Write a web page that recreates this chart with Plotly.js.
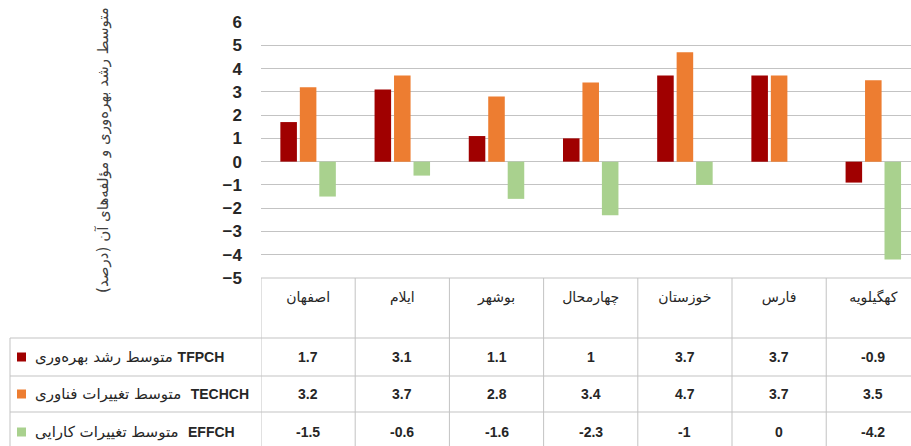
<!DOCTYPE html>
<html>
<head>
<meta charset="utf-8">
<script src="https://cdn.plot.ly/plotly-3.0.1.min.js"></script>
<style>
html,body{margin:0;padding:0;background:#fff;overflow:hidden;}
#chart{width:911px;height:446px;}
</style>
</head>
<body>
<div id="chart"></div>
<script>
// ---- data ----
const categories = ['اصفهان', 'ایلام', 'بوشهر', 'چهارمحال', 'خوزستان', 'فارس', 'کهگیلویه'];
const tfpch  = [1.7, 3.1, 1.1, 1, 3.7, 3.7, -0.9];
const techch = [3.2, 3.7, 2.8, 3.4, 4.7, 3.7, 3.5];
const effch  = [-1.5, -0.6, -1.6, -2.3, -1, 0, -4.2];
const seriesCodes  = ['TFPCH', 'TECHCH', 'EFFCH'];
const seriesLabels = ['متوسط رشد بهره‌وری', 'متوسط تغییرات فناوری', 'متوسط تغییرات کارایی'];
const yTickVals = [-5, -4, -3, -2, -1, 0, 1, 2, 3, 4, 5, 6];
const yTitle = 'متوسط رشد بهره‌وری و مؤلفه‌های آن (درصد)';

// ---- styling / geometry ----
const colors = ['#A00000', '#ED7D31', '#A9D18E'];
const seriesValues = [tfpch, techch, effch];
const W = 911, H = 446;
const L = 261, T = 22, B = 278;           // plot area in px
const plotW = W - L, plotH = B - T;
const xp = px => (px - L) / plotW;
const yp = py => (B - py) / plotH;
const gridColor = '#C3C3C3';
const rowLines = [338, 376, 412];
const rowCenters = [357, 394, 432];
const sep = ['\u00A0', '\u00A0\u00A0', '\u00A0\u00A0'];
const latinStyle = 'font-family:Liberation Sans Narrow, Liberation Sans, Arial, sans-serif;font-size:14px;font-weight:bold';

const traces = seriesValues.map((vals, s) => ({
  type: 'bar',
  x: categories,
  y: vals,
  name: seriesCodes[s],
  marker: {color: colors[s], line: {width: 0}},
  hoverinfo: 'x+y+name'
}));

const shapes = [];
// table top border
shapes.push({type: 'line', xref: 'paper', yref: 'paper', x0: 0, x1: 1, y0: 0, y1: 0,
  line: {color: gridColor, width: 1}});
// horizontal row borders
rowLines.forEach(py => shapes.push({type: 'line', xref: 'paper', yref: 'paper',
  x0: xp(10), x1: 1, y0: yp(py), y1: yp(py), line: {color: gridColor, width: 1}}));
// vertical column borders
for (let i = 0; i < categories.length; i++) {
  shapes.push({type: 'line', xref: 'x', yref: 'paper', x0: i - 0.5, x1: i - 0.5,
    y0: 0, y1: yp(H + 2), line: {color: gridColor, width: 1}});
}
// left border of legend column
shapes.push({type: 'line', xref: 'paper', yref: 'paper', x0: xp(10), x1: xp(10),
  y0: yp(rowLines[0]), y1: yp(H + 2), line: {color: gridColor, width: 1}});
// legend keys
rowCenters.forEach((cy, s) => shapes.push({type: 'rect', xref: 'paper', yref: 'paper',
  x0: xp(17), x1: xp(26), y0: yp(cy + 4.5), y1: yp(cy - 4.5),
  fillcolor: colors[s], line: {width: 0}}));

const annotations = [];
seriesValues.forEach((vals, s) => {
  // legend labels
  annotations.push({xref: 'paper', yref: 'paper', x: xp(33), y: yp(rowCenters[s]),
    xanchor: 'left', yanchor: 'middle', showarrow: false,
    text: seriesLabels[s] + sep[s] + '<span style="' + latinStyle + '">' + seriesCodes[s] + '</span>',
    font: {family: 'DejaVu Sans, sans-serif', size: 15, color: '#262626'}});
  // values
  vals.forEach((v, i) => annotations.push({xref: 'x', yref: 'paper', x: categories[i],
    y: yp(rowCenters[s]), xanchor: 'center', yanchor: 'middle', showarrow: false,
    text: '<b>' + v + '</b>',
    font: {family: 'Liberation Sans, Arial, sans-serif', size: 14, color: '#262626'}}));
});

const layout = {
  width: W, height: H,
  margin: {l: L, r: 0, t: T, b: H - B, pad: 0},
  paper_bgcolor: '#fff', plot_bgcolor: '#fff',
  showlegend: false,
  barmode: 'group',
  bargap: 0.38,
  bargroupgap: 0.15,
  xaxis: {
    type: 'category',
    range: [-0.5, 6.4],
    showgrid: false, zeroline: false, showline: false, ticks: '',
    tickfont: {family: 'DejaVu Sans, sans-serif', size: 14, color: '#262626'},
    ticklabelstandoff: 9,
    fixedrange: true
  },
  yaxis: {
    range: [-5, 6],
    tickvals: yTickVals,
    showgrid: true, gridcolor: gridColor, gridwidth: 1,
    zeroline: true, zerolinecolor: gridColor, zerolinewidth: 1,
    showline: false, ticks: '',
    tickfont: {family: 'Liberation Sans, Arial, sans-serif', size: 17, color: '#262626', weight: 'bold'},
    ticklabelstandoff: 18,
    title: {text: yTitle, standoff: 110,
      font: {family: 'DejaVu Sans, sans-serif', size: 15, color: '#404040'}},
    automargin: false,
    fixedrange: true
  },
  shapes: shapes,
  annotations: annotations
};

Plotly.newPlot('chart', traces, layout, {displayModeBar: false, staticPlot: false});
</script>
</body>
</html>
